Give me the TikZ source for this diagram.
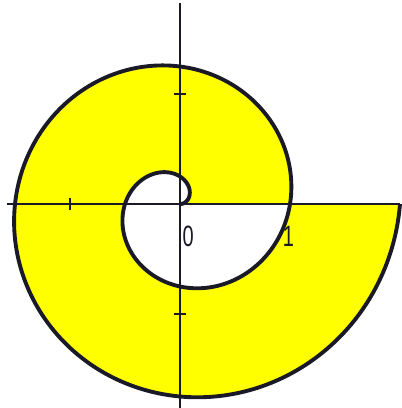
\documentclass[tikz,border=0pt]{standalone}
\usepackage{fontspec}
\setmainfont{Liberation Sans}
\definecolor{spiralyellow}{RGB}{255,255,0}
\definecolor{inkline}{RGB}{25,25,40}
\tikzset{
  axisline/.style={draw=inkline, line width=0.4pt},
  spiralline/.style={draw=inkline, line width=1.0pt, line join=round},
  ticklabel/.style={inner sep=0pt, font=\fontsize{7.6}{8}\selectfont, xscale=0.68, text=inkline}
}
\begin{document}
\begin{tikzpicture}[x=1cm,y=1cm]
\useasboundingbox[fill=white] (-1.6364,-1.8545) rectangle (2.0091,1.8545);
% yellow region between the two turns
\fill[spiralyellow]
  plot[domain=360:720, samples=300, smooth] ({\x/360*cos(\x)}, {\x/360*sin(\x)})
  -- plot[domain=360:0, samples=300, smooth] ({\x/360*cos(\x)}, {\x/360*sin(\x)})
  -- cycle;
% axes
\coordinate (xl) at (-1.573,0);
\coordinate (xr) at (2.0,0);
\coordinate (yt) at (0,1.83);
\coordinate (yb) at (0,-1.86);
\draw[axisline] (xl) -- (xr);
\draw[axisline] (yb) -- (yt);
% ticks
\draw[axisline] (-1.0,-0.055) -- (-1.0,0.055);
\draw[axisline] (-0.055,1.0) -- (0.055,1.0);
\draw[axisline] (-0.055,-1.0) -- (0.055,-1.0);
% spiral
\draw[spiralline] plot[domain=0:720, samples=500, smooth] ({\x/360*cos(\x)}, {\x/360*sin(\x)});
% labels
\node[ticklabel] (l0) at (0.075,-0.29) {0};
\node[ticklabel] (l1) at (0.985,-0.29) {1};
\end{tikzpicture}
\end{document}
